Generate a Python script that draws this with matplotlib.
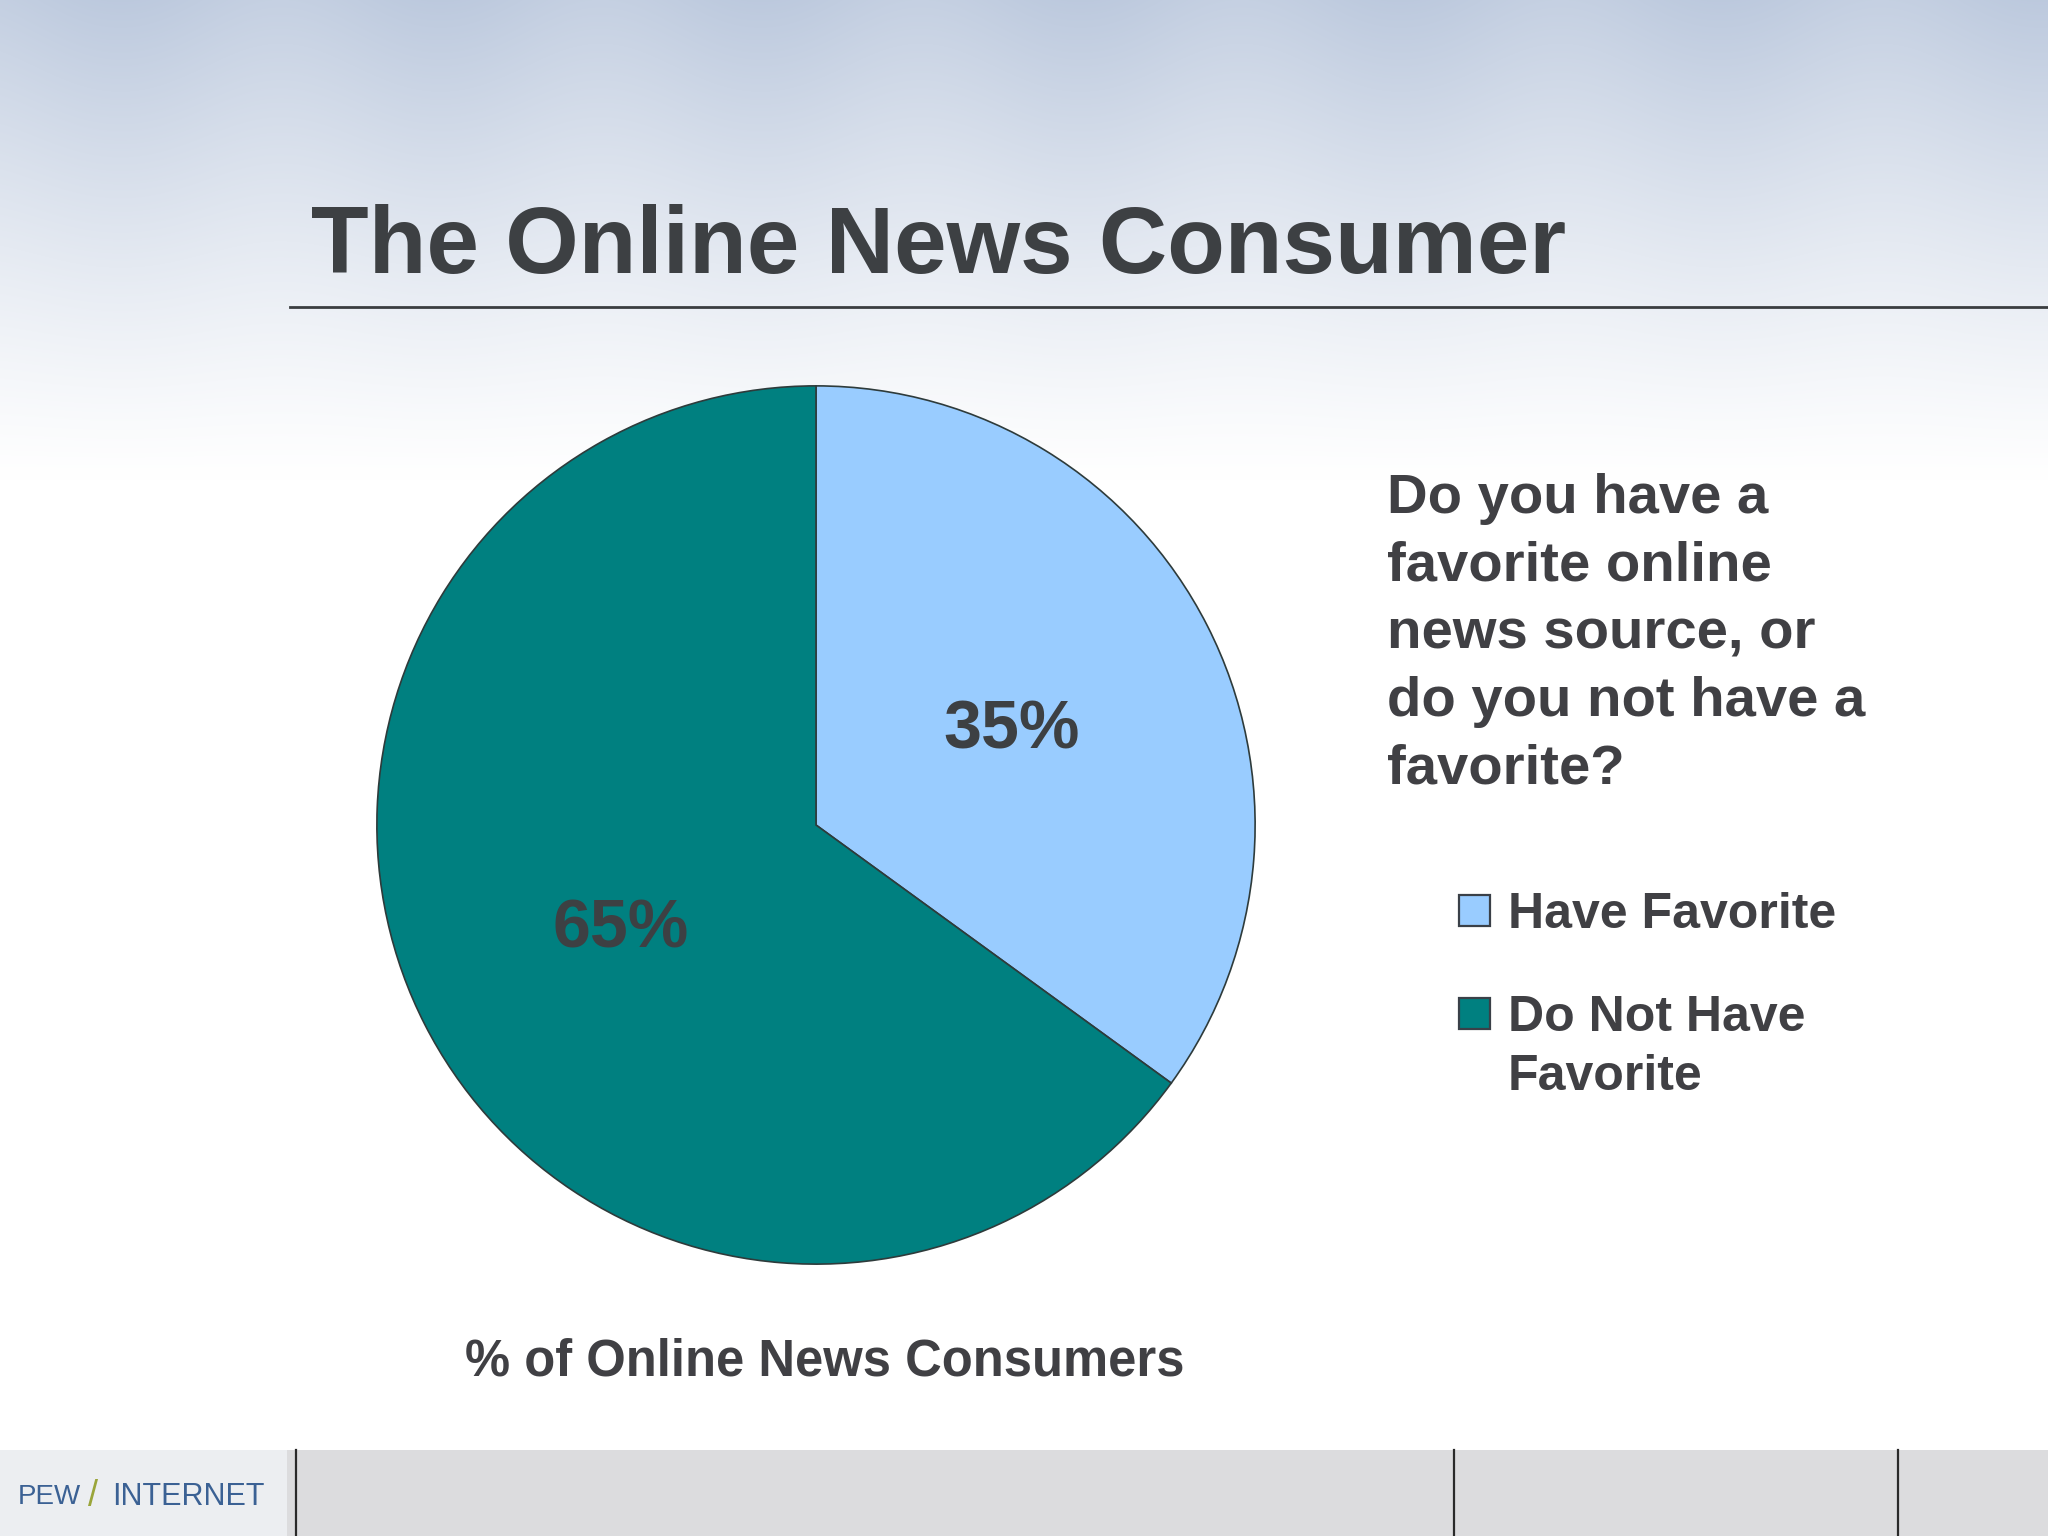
import numpy as np
import matplotlib
matplotlib.use('Agg')
import matplotlib.pyplot as plt
from matplotlib.patches import Rectangle

W, H = 2048, 1536

title = 'The Online News Consumer'
question = 'Do you have a\nfavorite online\nnews source, or\ndo you not have a\nfavorite?'
caption = '% of Online News Consumers'
labels = ['Have Favorite', 'Do Not Have\nFavorite']
shares = [35, 65]
colors = ['#99ccff', '#008080']

TXT = '#404044'

plt.rcParams['font.family'] = ['Liberation Sans', 'DejaVu Sans']


def fx(px):
    return px / W


def fy(py):
    return 1 - py / H


fig = plt.figure(figsize=(W / 100, H / 100), dpi=100)

# background: soft blue-grey top fading to white
bg = fig.add_axes([0, 0, 1, 1])
bg.set_xlim(0, W)
bg.set_ylim(H, 0)
bg.axis('off')
yy, xx = np.mgrid[0:H, 0:W]
fade = np.clip(1 - yy / 480.0, 0, 1) ** 1.15
bands = 0.55 + 0.45 * np.cos((xx - 120) / 2048 * 2 * np.pi * 3.2) ** 2
shade = fade * (0.72 + 0.28 * bands)
top = np.array([0.74, 0.79, 0.87])
img = 1 - shade[..., None] * (1 - top)
bg.imshow(img, extent=(0, W, H, 0), aspect='auto', zorder=0)

bg.plot([290, W], [307, 307], color='#3a3d40', lw=2, zorder=2)

# footer bar
bg.add_patch(Rectangle((0, 1450), W, H - 1450, facecolor='#dcdcde', edgecolor='none', zorder=1))
bg.add_patch(Rectangle((0, 1450), 287, H - 1450, facecolor='#eceef1', edgecolor='none', zorder=1))
for xv in [296, 1454, 1898]:
    bg.plot([xv, xv], [1450, H], color='#2a2a2a', lw=1.6, zorder=2)

fig.text(fx(311), fy(273), title, fontsize=68, fontweight='bold',
         color='#3d4043', va='baseline', ha='left')

# pie
cx, cy, r = 816, 825, 440
ax = fig.add_axes([fx(cx - r), fy(cy + r), 2 * r / W, 2 * r / H])
wedges, _, autotexts = ax.pie(shares, colors=colors, startangle=90, counterclock=False,
                              autopct=lambda p: f'{p:.0f}%', pctdistance=0.5,
                              wedgeprops=dict(edgecolor='#2e3b3b', linewidth=1.2),
                              textprops=dict(fontsize=49, fontweight='bold', color='#3d4043'))
ax.set_xlim(-1.002, 1.002)
ax.set_ylim(-1.002, 1.002)
ax.set_aspect('equal')
for t in autotexts:
    px, py = t.get_position()
    t.set_position((px, py - 0.012))

fig.text(fx(1387), fy(634), question, fontsize=40.5, fontweight='bold', color=TXT,
         ha='left', va='center', linespacing=1.39)

# legend, square aligned with the first line of each label
leg_y = [910, 1013]
for lab, col, ly in zip(labels, colors, leg_y):
    bg.add_patch(Rectangle((1459, ly - 15), 31, 31, facecolor=col, edgecolor='#3a4048',
                           lw=1.6, zorder=3))
    nlines = lab.count('\n') + 1
    bg.text(1508, ly + 5 + (nlines - 1) * 59 / 2, lab, fontsize=36, fontweight='bold',
            color=TXT, ha='left', va='center', linespacing=1.36, zorder=3)

fig.text(fx(825), fy(1362), caption, fontsize=36.5, fontweight='bold', color=TXT,
         ha='center', va='center')

# logo
bg.text(18, 1497, 'PEW', fontsize=20, color='#3b6194', va='center', ha='left', zorder=3)
bg.text(88, 1497, '/', fontsize=26, color='#9aa53a', va='center', ha='left', zorder=3)
bg.text(112, 1497, 'INTERNET', fontsize=22, color='#3b6194', va='center', ha='left', zorder=3)

fig.savefig('out.png', dpi=100)
